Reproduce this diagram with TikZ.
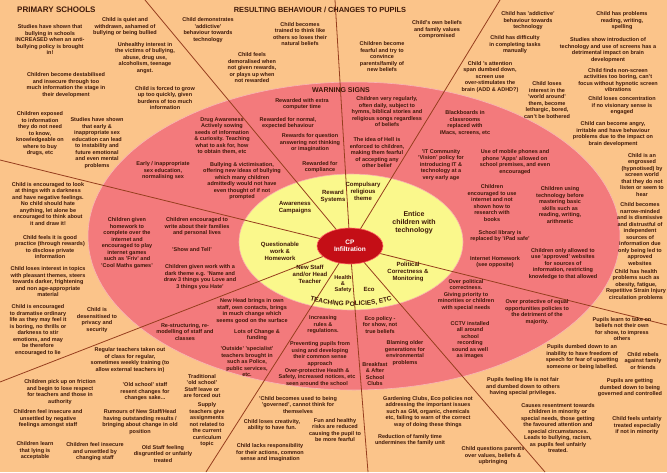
\documentclass[tikz,border=0pt]{standalone}
\usepackage{fontspec}
\setmainfont{Liberation Sans}
\usetikzlibrary{shapes.geometric,decorations.text}

\definecolor{peach}{RGB}{251,196,138}
\definecolor{warnpink}{RGB}{243,122,124}
\definecolor{policyyel}{RGB}{250,248,140}
\definecolor{cpred}{RGB}{196,14,22}
\definecolor{spoke}{RGB}{150,62,30}
\definecolor{ink}{RGB}{62,24,8}

\tikzset{
  txt/.style={align=center,inner sep=0pt,text=ink,font=\fontsize{5.5}{6.5}\selectfont\bfseries},
  head/.style={inner sep=0pt,text=ink,font=\fontsize{8}{9}\selectfont\bfseries},
  seg/.style={align=center,inner sep=0pt,text=ink,font=\fontsize{6}{6.9}\selectfont\bfseries},
  spokeline/.style={draw=spoke,line width=0.8pt}
}

\begin{document}
\begin{tikzpicture}[x=1pt,y=-1pt]
\useasboundingbox (0,0) rectangle (667,472);
\fill [peach] (0,0) rectangle (667,472);
\fill [warnpink,draw=white!45!warnpink,line width=0.6pt] (354,236) ellipse [x radius=266pt,y radius=154pt];
\coordinate (ctr) at (351,242);
\fill [policyyel,draw=white!40!warnpink,line width=0.6pt] (ctr) ellipse [x radius=112pt,y radius=68pt];

% spokes
\coordinate (hub) at (350,246);
\coordinate (sp1) at (145,0);
\coordinate (sp2) at (335,0);
\coordinate (sp3) at (500,0);
\coordinate (sp4) at (667,325);
\coordinate (sp5) at (545,472);
\coordinate (sp6) at (368,472);
\coordinate (sp7) at (206,472);
\coordinate (sp8) at (0,382);
\coordinate (sp9) at (0,160);
\foreach \i in {1,...,9}
  \draw [spokeline] (hub) -- (sp\i);

\node [shape=ellipse,fill=cpred,draw=red!60!white,line width=0.6pt,minimum width=66pt,minimum height=36pt,inner sep=0pt,
  align=center,text=white,font=\fontsize{6.5}{7.5}\selectfont\bfseries] (cp) at (hub) {CP\\Infiltration};

% headings
\node [head,anchor=west] (primary) at (17,10) {PRIMARY SCHOOLS};
\node [head,font=\fontsize{7.4}{8}\selectfont\bfseries] (resulting) at (320,10) {RESULTING BEHAVIOUR / CHANGES TO PUPILS};
\node [head,font=\fontsize{7}{8}\selectfont\bfseries] (warning) at (341,90) {WARNING SIGNS};
\path [decorate,decoration={text along path,text align=center,
  text={|\fontsize{6.5}{7}\selectfont\bfseries\color{ink}|TEACHING POLICIES, ETC}}]
  ([shift={(233:104pt and 64pt)}]ctr) arc [start angle=233,end angle=307,x radius=104pt,y radius=64pt];

% yellow ring
\node [seg] (reward) at (333,196) {Reward\\Systems};
\node [seg] (religious) at (363,191) {Compulsary\\religious\\theme};
\node [seg] (awareness) at (295,208) {Awareness\\Campaigns};
\node [seg,font=\fontsize{7}{8}\selectfont\bfseries] (entice) at (414,223) {Entice\\children with\\technology};
\node [seg] (homework) at (280,251) {Questionable\\work \&\\Homework};
\node [seg] (newstaff) at (310,274) {New Staff\\and/or Head\\Teacher};
\node [seg,font=\fontsize{5.6}{6.2}\selectfont\bfseries] (safety) at (343,284) {Health\\\&\\Safety};
\node [seg] (eco) at (369,289) {Eco};
\node [seg] (political) at (408,272) {Political\\Correctness \&\\Monitoring};

% warning signs (pink ring)
\node [txt] (extra) at (302,104) {Rewarded with extra\\computer time};
\node [txt] (hymns) at (387,112) {Children very regularly,\\often daily, subject to\\hymns, biblical stories and\\religious songs regardless\\of beliefs};
\node [txt] (blackboards) at (465,123) {Blackboards in\\classrooms\\replaced with\\iMacs, screens, etc};
\node [txt] (drugs) at (222,136) {Drug Awareness\\Actively sowing\\seeds of information\\\& curiosity. Teaching\\what to ask for, how\\to obtain them, etc};
\node [txt] (normal) at (288,123) {Rewarded for normal,\\expected behaviour};
\node [txt] (question) at (310,143) {Rewards for question\\answering not thinking\\or imagination};
\node [txt] (compliance) at (320,167) {Rewarded for\\compliance};
\node [txt] (hell) at (377,153) {The idea of Hell is\\enforced to children,\\making them fearful\\of accepting any\\other belief};
\node [txt] (vision) at (441,165) {'IT Community\\'Vision' policy for\\introducing IT \&\\technology at a\\very early age};
\node [txt] (sexed) at (163,171) {Early / inappropriate\\sex education,\\normalising sex};
\node [txt] (bullying) at (242,181) {Bullying \& victimisation,\\offering new ideas of bullying\\which many children\\admittedly would not have\\even thought of if not\\prompted};
\node [txt] (phones) at (515,162) {Use of mobile phones and\\phone 'Apps' allowed on\\school premises, and even\\encouraged};
\node [txt] (internet) at (492,203) {Children\\encouraged to use\\internet and not\\shown how to\\research with\\books};
\node [txt] (basics) at (560,205) {Children using\\technology before\\mastering basic\\skills such as\\reading, writing,\\arithmetic};
\node [txt] (games) at (127,243) {Children given\\homework to\\complete over the\\internet and\\encouraged to play\\internet games\\such as 'Friv' and\\'Cool Maths games'};
\node [txt] (families) at (197,227) {Children encouraged to\\write about their families\\and personal lives};
\node [txt] (showtell) at (192,250) {'Show and Tell'};
\node [txt] (darktheme) at (200,277) {Children given work with a\\dark theme e.g. 'Name and\\draw 3 things you Love and\\3 things you Hate'};
\node [txt] (library) at (500,236) {School library is\\replaced by 'iPad safe'};
\node [txt] (inthome) at (495,262) {Internet Homework\\(see opposite)};
\node [txt] (approved) at (563,264) {Children only allowed to\\use 'approved' websites\\for sources of\\information, restricting\\knowledge to that allowed};
\node [txt] (minorities) at (466,295) {Over political\\correctness.\\Giving priority to\\minorities or children\\with special needs};
\node [txt] (equalopp) at (537,312) {Over protective of equal\\opportunities policies to\\the detriment of the\\majority.};
\node [txt] (cctv) at (470,340) {CCTV installed\\all around\\school\\recording\\sound as well\\as images};
\node [txt] (newhead) at (252,311) {New Head brings in own\\staff, own contacts, brings\\in much change which\\seems good on the surface};
\node [txt] (funding) at (257,335) {Lots of Change \&\\funding};
\node [txt] (restructure) at (185,332) {Re-structuring, re-\\modelling of staff and\\classes};
\node [txt] (outside) at (247,362) {'Outside' 'specialist'\\teachers brought in\\such as Police,\\public services,\\etc.};
\node [txt] (rules) at (323,325) {Increasing\\rules \&\\regulations.};
\node [txt] (commonsense) at (320,354) {Preventing pupils from\\using and developing\\their common sense\\approach};
\node [txt] (notices) at (317,377) {Over-protective Health \&\\Safety, increased notices, etc\\seen around the school};
\node [txt] (ecoshow) at (380,325) {Eco policy -\\for show, not\\true beliefs};
\node [txt] (blaming) at (405,353) {Blaming older\\generations for\\environmental\\problems};
\node [txt] (clubs) at (375,374) {Breakfast\\\& After\\School\\Clubs};

% primary schools
\node [txt] (increased) at (50,40) {Studies have shown that\\bullying in schools\\INCREASED when an anti-\\bullying policy is brought\\in!};
\node [txt] (quiet) at (125,27) {Child is quiet and\\withdrawn, ashamed of\\bullying or being bullied};
\node [txt] (victims) at (145,58) {Unhealthy interest in\\the victims of bullying,\\abuse, drug use,\\alcoholism, teenage\\angst.};
\node [txt] (destabilised) at (66,85) {Children become destabilised\\and insecure through too\\much information the stage in\\their development};
\node [txt] (grow) at (165,98) {Child is forced to grow\\up too quickly, given\\burdens of too much\\information};
\node [txt] (exposed) at (40,134) {Children exposed\\to information\\they do not need\\to know,\\knowledgeable on\\where to buy\\drugs, etc};
\node [txt] (instability) at (97,143) {Studies have shown\\that early \&\\inappropriate sex\\education can lead\\to instability and\\future emotional\\and even mental\\problems};

% resulting behaviour
\node [txt] (addictive) at (208,30) {Child demonstrates\\'addictive'\\behaviour towards\\technology};
\node [txt] (trained) at (300,34) {Child becomes\\trained to think like\\others so loses their\\natural beliefs};
\node [txt] (demoralised) at (252,68) {Child feels\\demoralised when\\not given rewards,\\or plays up when\\not rewarded};
\node [txt] (fearful) at (382,57) {Children become\\fearful and try to\\convince\\parents/family of\\new beliefs};
\node [txt] (values) at (437,30) {Child's own beliefs\\and family values\\compromised};

% technology side
\node [txt] (addict2) at (528,21) {Child has 'addictive'\\behaviour towards\\technology};
\node [txt] (reading) at (622,21) {Child has problems\\reading, writing,\\spelling};
\node [txt] (manual) at (515,45) {Child has difficulty\\in completing tasks\\manually};
\node [txt] (brain) at (608,50) {Studies show introduction of\\technology and use of screens has a\\detrimental impact on brain\\development};
\node [txt] (attention) at (490,77) {Child 's attention\\span dumbed down,\\screen use\\over-stimulates the\\brain (ADD \& ADHD?)};
\node [txt] (lethargic) at (547,100) {Child loses\\interest in the\\'world around'\\them, become\\lethargic, bored,\\can't be bothered};
\node [txt] (hypnotic) at (618,80) {Child finds non-screen\\activities too boring, can't\\focus without hypnotic screen\\vibrations};
\node [txt] (concentration) at (622,106) {Child loses concentration\\if no visionary sense is\\engaged};
\node [txt] (angry) at (613,134) {Child can become angry,\\irritable and have behaviour\\problems due to the impact on\\brain development};
\node [txt] (engrossed) at (642,175) {Child is an\\engrossed\\(hypnotised) by\\screen world\\that they do not\\listen or seem to\\hear};
\node [txt] (narrow) at (640,234) {Child becomes\\narrow-minded\\and is dismissive\\and distrustful of\\independent\\sources of\\information due\\only being led to\\approved\\websites};
\node [txt] (health) at (636,285) {Child has health\\problems such as\\obesity, fatigue,\\Repetitive Strain Injury\\circulation problems};
\node [txt] (impress) at (622,329) {Pupils learn to take on\\beliefs not their own\\for show, to impress\\others};
\node [txt] (labelled) at (582,357) {Pupils dumbed down to an\\inability to have freedom of\\speech for fear of upsetting\\someone or being labelled.};
\node [txt] (rebels) at (643,361) {Child rebels\\against family\\or friends};
\node [txt] (notfair) at (523,387) {Pupils feeling life is not fair\\and dumbed down to others\\having special privileges.};
\node [txt] (governed) at (630,388) {Pupils are getting\\dumbed down to being\\governed and controlled};
\node [txt] (resentment) at (558,428) {Causes resentment towards\\children in minority or\\special needs, those getting\\the favoured attention and\\special circumstances.\\Leads to bullying, racism,\\as pupils feel unfairly\\treated.};
\node [txt] (unfairly) at (637,426) {Child feels unfairly\\treated especially\\if not in minority};
\node [txt] (upbringing) at (493,456) {Child questions parents\\over values, beliefs \&\\upbringing};
\node [txt] (gardening) at (428,412) {Gardening Clubs, Eco policies not\\addressing the important issues\\such as GM, organic, chemicals\\etc, failing to warn of the correct\\way of doing these things};
\node [txt] (familytime) at (410,440) {Reduction of family time\\undermines the family unit};

% teaching policies side
\node [txt] (usedto) at (298,405) {'Child becomes used to being\\'governed', cannot think for\\themselves};
\node [txt] (creativity) at (272,425) {Child loses creativity,\\ability to have fun.};
\node [txt] (risks) at (335,430) {Fun and healthy\\risks are reduced\\causing the pupil to\\be more fearful};
\node [txt] (responsibility) at (270,453) {Child lacks responsibility\\for their actions, common\\sense and imagination};
\node [txt] (training) at (130,360) {Regular teachers taken out\\of class for regular,\\sometimes weekly training (to\\allow external teachers in)};
\node [txt] (friction) at (60,392) {Children pick up on friction\\and begin to lose respect\\for teachers and those in\\authority};
\node [txt] (oldschool) at (145,392) {'Old school' staff\\resent changes for\\changes sake...};
\node [txt] (traditional) at (202,386) {Traditional\\'old school'\\Staff leave or\\are forced out};
\node [txt] (supply) at (207,425) {Supply\\teachers give\\assignments\\not related to\\the current\\curriculum\\topic};
\node [txt] (insecure) at (48,419) {Children feel insecure and\\unsettled by negative\\feelings amongst staff};
\node [txt] (rumours) at (140,422) {Rumours of New Staff/Head\\having outstanding results /\\bringing about change in old\\position};
\node [txt] (lying) at (35,451) {Children learn\\that lying is\\acceptable};
\node [txt] (changing) at (95,452) {Children feel insecure\\and unsettled by\\changing staff};
\node [txt] (disgruntled) at (163,454) {Old Staff feeling\\disgruntled or unfairly\\treated};

% dark themes side
\node [txt] (darkness) at (48,204) {Child is encouraged to look\\at things with a darkness\\and have negative feelings.\\No child should hate\\anything, let alone be\\encouraged to think about\\it and draw it!};
\node [txt] (disclose) at (50,247) {Child feels it is good\\practice (through rewards)\\to disclose private\\information};
\node [txt] (darker) at (48,282) {Child loses interest in topics\\with pleasant themes, steers\\towards darker, frightening\\and non age-appropriate\\material};
\node [txt] (dramatise) at (38,330) {Child is encouraged\\to dramatise ordinary\\life as they may feel it\\is boring, no thrills or\\darkness to stir\\emotions, and may\\be therefore\\encouraged to lie};
\node [txt] (privacy) at (97,320) {Child is\\desensitised to\\privacy and\\security};
\end{tikzpicture}
\end{document}
